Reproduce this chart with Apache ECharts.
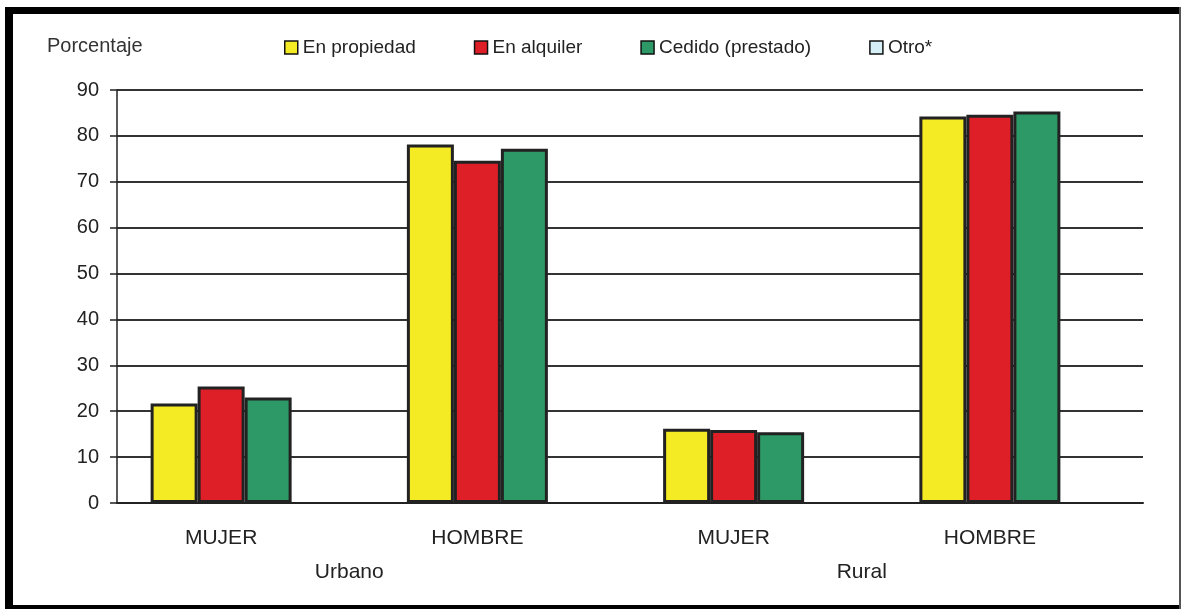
<!DOCTYPE html>
<html>
<head>
<meta charset="utf-8">
<script src="https://cdn.jsdelivr.net/npm/echarts@6/dist/echarts.min.js"></script>
<style>
    html, body { margin: 0; padding: 0; background: #fff; }
    #chart { width: 1182px; height: 609px; }
</style>
</head>
<body>
<div id="chart"></div>
<script>
    var categories = ['MUJER', 'HOMBRE', 'MUJER', 'HOMBRE'];
    var groups = ['', 'Urbano', '', 'Rural', ''];
    var propiedad = [21.7, 78.1, 16.2, 84.2];
    var alquiler = [25.4, 74.6, 15.9, 84.6];
    var cedido = [23.0, 77.2, 15.4, 85.3];
    var otro = [];
    var seriesNames = ['En propiedad', 'En alquiler', 'Cedido (prestado)', 'Otro*'];
    var colors = ['#F4EB24', '#DF1F27', '#2C9966', '#D6EEF5'];

    var font = 'Liberation Sans, Arial, sans-serif';
    var chart = echarts.init(document.getElementById('chart'));

    function barSeries(i, data, axis) {
        return {
            name: seriesNames[i],
            type: 'bar',
            xAxisIndex: axis,
            yAxisIndex: axis,
            barWidth: 47,
            barGap: '0%',
            data: data,
            itemStyle: {
                color: colors[i],
                borderColor: '#222',
                borderWidth: 3
            },
            emphasis: {disabled: true}
        };
    }

    chart.setOption({
        backgroundColor: '#fff',
        animation: false,
        legend: {
            left: 279,
            top: 33,
            itemWidth: 13,
            itemHeight: 13,
            itemGap: 58,
            icon: 'rect',
            data: seriesNames,
            textStyle: {
                fontFamily: font,
                fontSize: 19,
                color: '#222',
                lineHeight: 19
            },
            itemStyle: {borderColor: '#111', borderWidth: 1.5}
        },
        grid: [
            // axis + gridlines
            {left: 117, right: 39, top: 90, bottom: 106},
            // bars + category labels
            {left: 93, right: 64, top: 90, bottom: 106}
        ],
        xAxis: [
            {
                gridIndex: 0,
                type: 'category',
                data: categories,
                axisLine: {lineStyle: {color: '#222', width: 2}},
                axisTick: {show: false},
                axisLabel: {show: false}
            },
            {
                gridIndex: 1,
                type: 'category',
                position: 'bottom',
                data: categories,
                axisLine: {show: false},
                axisTick: {show: false},
                axisLabel: {
                    interval: 0,
                    margin: 25,
                    fontFamily: font,
                    fontSize: 21,
                    lineHeight: 21,
                    color: '#222'
                }
            },
            {
                gridIndex: 1,
                type: 'category',
                position: 'bottom',
                boundaryGap: false,
                data: groups,
                axisLine: {show: false},
                axisTick: {show: false},
                axisLabel: {
                    interval: 0,
                    margin: 59,
                    fontFamily: font,
                    fontSize: 21,
                    lineHeight: 21,
                    color: '#222'
                }
            }
        ],
        yAxis: [
            {
                gridIndex: 0,
                type: 'value',
                min: 0,
                max: 90,
                interval: 10,
                axisLine: {show: true, lineStyle: {color: '#222', width: 1.5}},
                axisTick: {show: true, length: 7, lineStyle: {color: '#222', width: 1.5}},
                axisLabel: {
                    margin: 18,
                    fontFamily: font,
                    fontSize: 20,
                    color: '#222'
                },
                splitLine: {lineStyle: {color: '#333', width: 2}}
            },
            {
                gridIndex: 1,
                type: 'value',
                min: 0,
                max: 90,
                interval: 10,
                show: false,
                splitLine: {show: false}
            }
        ],
        series: [
            barSeries(0, propiedad, 1),
            barSeries(1, alquiler, 1),
            barSeries(2, cedido, 1),
            barSeries(3, otro, 0)
        ],
        graphic: [
            {
                type: 'text',
                left: 47,
                top: 36,
                style: {
                    text: 'Porcentaje',
                    fontFamily: font,
                    fontSize: 20,
                    fill: '#333'
                }
            },
            // picture frame
            {type: 'rect', shape: {x: 5, y: 7, width: 8, height: 602}, style: {fill: '#000'}},
            {type: 'rect', shape: {x: 5, y: 7, width: 1176, height: 7}, style: {fill: '#000'}},
            {type: 'rect', shape: {x: 5, y: 605, width: 1176, height: 4}, style: {fill: '#000'}},
            {type: 'rect', shape: {x: 1179, y: 7, width: 2, height: 602}, style: {fill: '#555'}}
        ]
    });
</script>
</body>
</html>
